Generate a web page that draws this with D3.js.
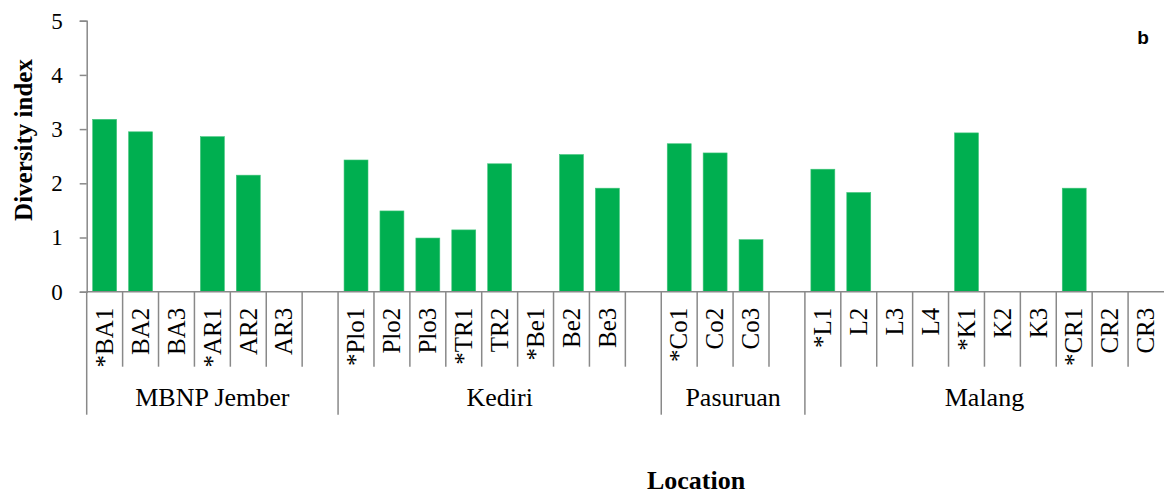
<!DOCTYPE html>
<html>
<head>
<meta charset="utf-8">
<script src="https://cdn.jsdelivr.net/npm/d3@7"></script>
<style>
  body { margin: 0; background: #fff; }
  svg { display: block; }
  text { font-family: "Liberation Serif", "DejaVu Serif", serif; fill: #000; }
</style>
</head>
<body>
<svg id="chart" width="1164" height="495"></svg>
<script>
// sites on the x axis, "" marks the empty slot that separates groups
var sites = ['*BA1', 'BA2', 'BA3', '*AR1', 'AR2', 'AR3', '',
  '*Plo1', 'Plo2', 'Plo3', '*TR1', 'TR2', '*Be1', 'Be2', 'Be3', '',
  '*Co1', 'Co2', 'Co3', '',
  '*L1', 'L2', 'L3', 'L4', '*K1', 'K2', 'K3', '*CR1', 'CR2', 'CR3']
var diversity = [3.18, 2.95, 0, 2.86, 2.15, 0, null,
  2.43, 1.49, 0.99, 1.14, 2.36, 0, 2.53, 1.91, null,
  2.73, 2.56, 0.96, null,
  2.26, 1.83, 0, 0, 2.93, 0, 0, 1.91, 0, 0]
var groups = ['MBNP Jember', 'Kediri', 'Pasuruan', 'Malang']
var groupSizes = [7, 9, 4, 10]
var yTicks = [0, 1, 2, 3, 4, 5]

var dims = {
  width: 1164,
  height: 495,
  margin: { top: 20.7, bottom: 203.3, left: 86.7, right: 0 }
}
var axisColor = '#898989'
var barColor = '#00AF50'
var serif = '"Liberation Serif", "DejaVu Serif", serif'

var svg = d3.select('#chart')
var x0 = dims.margin.left, x1 = dims.width - dims.margin.right
var yBase = dims.height - dims.margin.bottom

var x = d3.scaleBand()
  .domain(d3.range(sites.length))
  .range([x0, x1])
  .paddingInner(1 / 3)
  .paddingOuter(1 / 6)

// slot index -> pixel, for the boundary tick lines
var xi = d3.scaleLinear().domain([0, sites.length]).range([x0, x1])

var y = d3.scaleLinear()
  .domain([0, 5])
  .range([yBase, dims.margin.top])

// bars
var data = sites.map(function (s, i) { return { site: s, i: i, v: diversity[i] } })
svg.append('g').selectAll('rect')
  .data(data.filter(d => d.v > 0))
  .enter()
  .append('rect')
  .attr('x', d => x(d.i))
  .attr('y', d => y(d.v))
  .attr('width', x.bandwidth())
  .attr('height', d => y(0) - y(d.v))
  .attr('fill', barColor)
  .attr('stroke', '#3fc47a')
  .attr('stroke-width', 0.6)

// y axis
var yAxis = svg.append('g')
  .attr('transform', 'translate(' + x0 + ',0)')
  .call(d3.axisLeft(y).tickValues(yTicks).tickFormat(d3.format('d'))
    .tickSize(7).tickPadding(17).tickSizeOuter(7))
  .attr('font-family', serif)
  .attr('font-size', 23)
yAxis.select('.domain').attr('stroke', axisColor).attr('stroke-width', 1.5)
yAxis.selectAll('.tick line').attr('stroke', axisColor).attr('stroke-width', 1.5)
yAxis.selectAll('.tick text')
  .style('font-family', serif)
  .style('font-size', '23px')
  .attr('fill', '#000')

// x axis line
svg.append('line')
  .attr('x1', x0).attr('x2', x1)
  .attr('y1', yBase).attr('y2', yBase)
  .attr('stroke', axisColor).attr('stroke-width', 1.5)

// group start positions
var starts = [0]
groupSizes.forEach(function (n, k) { starts.push(starts[k] + n) })
var groupStarts = starts.slice(0, groups.length)

// boundary lines between sites
svg.append('g').selectAll('line')
  .data(d3.range(sites.length).filter(i => groupStarts.indexOf(i) < 0))
  .enter()
  .append('line')
  .attr('x1', d => xi(d)).attr('x2', d => xi(d))
  .attr('y1', yBase).attr('y2', yBase + 75)
  .attr('stroke', axisColor).attr('stroke-width', 1.5)

// longer lines at group boundaries
svg.append('g').selectAll('line')
  .data(groupStarts)
  .enter()
  .append('line')
  .attr('x1', d => xi(d)).attr('x2', d => xi(d))
  .attr('y1', yBase).attr('y2', yBase + 123)
  .attr('stroke', axisColor).attr('stroke-width', 1.5)

// site labels (rotated)
var labelTop = yBase + 16
svg.append('g').selectAll('text')
  .data(data.filter(d => d.site !== ''))
  .enter()
  .append('text')
  .attr('x', d => x(d.i) + x.bandwidth() / 2)
  .attr('y', labelTop)
  .attr('dy', '0.33em')
  .attr('text-anchor', 'end')
  .attr('transform', d => 'rotate(-90,' + (x(d.i) + x.bandwidth() / 2) + ',' + labelTop + ')')
  .style('font-family', serif)
  .style('font-size', '25px')
  .text(d => d.site)

// group labels
svg.append('g').selectAll('text')
  .data(groups)
  .enter()
  .append('text')
  .attr('x', (d, k) => (xi(starts[k]) + xi(starts[k + 1])) / 2)
  .attr('y', yBase + 114)
  .attr('text-anchor', 'middle')
  .style('font-family', serif)
  .style('font-size', '26px')
  .text(d => d)

// axis titles
svg.append('text')
  .attr('transform', 'translate(32,140) rotate(-90)')
  .attr('text-anchor', 'middle')
  .style('font-family', serif)
  .style('font-size', '25px')
  .style('font-weight', 'bold')
  .text('Diversity index')

svg.append('text')
  .attr('x', 696)
  .attr('y', 489)
  .attr('text-anchor', 'middle')
  .style('font-family', serif)
  .style('font-size', '26px')
  .style('font-weight', 'bold')
  .text('Location')

// panel letter
svg.append('text')
  .attr('x', 1143)
  .attr('y', 44)
  .attr('text-anchor', 'middle')
  .style('font-family', '"Liberation Sans", Arial, sans-serif')
  .style('font-size', '19px')
  .style('font-weight', 'bold')
  .text('b')
</script>
</body>
</html>
